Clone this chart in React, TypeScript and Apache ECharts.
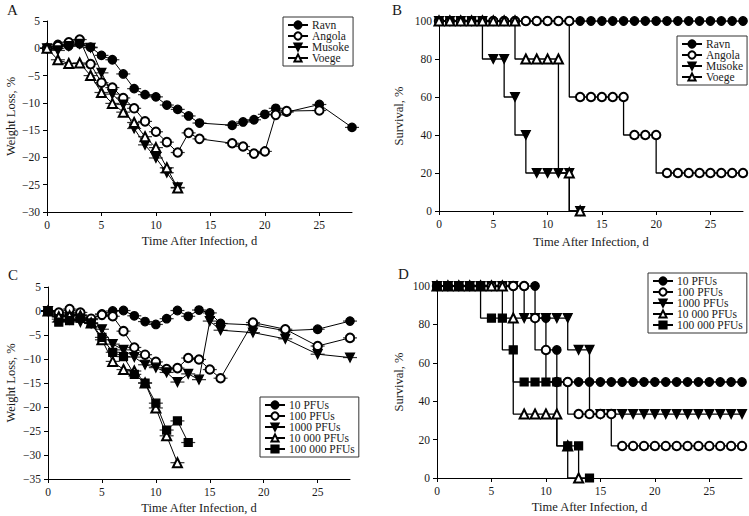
import React, { useEffect, useRef } from 'react';
import * as echarts from 'echarts';

// ---------- Panel A: weight loss by strain ----------
const ravnDays = [0, 1, 2, 3, 4, 5, 6, 7, 8, 9, 10, 11, 12, 13, 14, 17, 18, 19, 20, 21, 22, 25, 28];
const ravnWeight = [0, 0.7, 0.4, 0.8, 0.2, -1.3, -2.1, -4.7, -7.4, -8.5, -8.9, -10.4, -11.2, -12.4, -13.7, -14.1, -13.5, -13.1, -12.1, -11.0, -11.7, -10.3, -14.5];
const angolaDays = [0, 1, 2, 3, 4, 5, 6, 7, 8, 9, 10, 11, 12, 13, 14, 17, 18, 19, 20, 21, 22, 25];
const angolaWeight = [0, 0.4, 1.1, 1.6, -2.9, -6.3, -7.2, -9.1, -11.0, -13.4, -15.3, -17.2, -19.1, -15.5, -16.6, -17.4, -18.0, -19.3, -18.9, -12.2, -11.5, -11.4];
const musokeDays = [0, 1, 2, 3, 4, 5, 6, 7, 8, 9, 10, 11, 12];
const musokeWeight = [0, -0.4, 0.4, 0.8, 0.1, -4.5, -8.4, -10.3, -14.7, -17.7, -20.1, -22.8, -25.5];
const voegeDays = [0, 1, 2, 3, 4, 5, 6, 7, 8, 9, 10, 11, 12];
const voegeWeight = [0, -2.1, -2.8, -2.7, -5.0, -8.1, -10.1, -11.7, -13.6, -16.2, -18.2, -21.9, -25.6];

// ---------- Panel B: survival by strain ----------
const survDaysFull = [0, 1, 2, 3, 4, 5, 6, 7, 8, 9, 10, 11, 12, 13, 14, 15, 16, 17, 18, 19, 20, 21, 22, 23, 24, 25, 26, 27, 28];
const ravnSurv = [100, 100, 100, 100, 100, 100, 100, 100, 100, 100, 100, 100, 100, 100, 100, 100, 100, 100, 100, 100, 100, 100, 100, 100, 100, 100, 100, 100, 100];
const angolaSurv = [100, 100, 100, 100, 100, 100, 100, 100, 100, 100, 100, 100, 100, 60, 60, 60, 60, 60, 40, 40, 40, 20, 20, 20, 20, 20, 20, 20, 20];
const shortDays13 = [0, 1, 2, 3, 4, 5, 6, 7, 8, 9, 10, 11, 12, 13];
const musokeSurv = [100, 100, 100, 100, 100, 80, 80, 60, 40, 20, 20, 20, 20, 0];
const voegeSurv = [100, 100, 100, 100, 100, 100, 100, 100, 80, 80, 80, 80, 20, 0];

// ---------- Panel C: weight loss by dose ----------
const doseDaysLong = [0, 1, 2, 3, 4, 5, 6, 7, 8, 9, 10, 11, 12, 13, 14, 15, 16, 19, 22, 25, 28];
const pfu10Weight = [0, -1.2, -0.6, -0.8, -1.8, -0.6, 0, 0.1, -1.0, -2.2, -2.8, -1.6, 0.1, -1.1, 0.2, -0.4, -2.6, -2.9, -4.1, -3.8, -2.1];
const pfu100Weight = [0, -0.3, 0.4, -0.3, -1.6, -0.8, -1.1, -4.2, -7.6, -9.1, -10.6, -12.1, -11.9, -9.8, -10.1, -12.2, -14.0, -2.4, -3.8, -7.3, -5.6];
const pfu1000Weight = [0, -1.7, -1.8, -2.3, -2.6, -3.8, -6.9, -8.1, -9.6, -11.2, -11.8, -12.8, -14.8, -13.1, -14.3, -2.1, -4.0, -4.5, -5.8, -9.0, -9.7];
const doseDays12 = [0, 1, 2, 3, 4, 5, 6, 7, 8, 9, 10, 11, 12];
const pfu10kWeight = [0, -1.2, -1.0, -1.0, -2.5, -6.0, -10.5, -12.2, -12.5, -15.0, -20.2, -26.0, -31.6];
const doseDays13 = [0, 1, 2, 3, 4, 5, 6, 7, 8, 9, 10, 11, 12, 13];
const pfu100kWeight = [0, -2.3, -2.0, -1.5, -2.5, -5.5, -8.6, -9.5, -13.2, -15.0, -19.2, -24.8, -22.9, -27.4];

// ---------- Panel D: survival by dose ----------
const pfu10Surv = [100, 100, 100, 100, 100, 100, 100, 100, 100, 100, 83.3, 66.7, 50, 50, 50, 50, 50, 50, 50, 50, 50, 50, 50, 50, 50, 50, 50, 50, 50];
const pfu100Surv = [100, 100, 100, 100, 100, 100, 100, 100, 100, 83.3, 66.7, 50, 50, 33.3, 33.3, 33.3, 33.3, 16.7, 16.7, 16.7, 16.7, 16.7, 16.7, 16.7, 16.7, 16.7, 16.7, 16.7, 16.7];
const pfu1000Surv = [100, 100, 100, 100, 100, 100, 100, 100, 83.3, 83.3, 83.3, 83.3, 83.3, 66.7, 66.7, 33.3, 33.3, 33.3, 33.3, 33.3, 33.3, 33.3, 33.3, 33.3, 33.3, 33.3, 33.3, 33.3, 33.3];
const pfu10kSurv = [100, 100, 100, 100, 100, 100, 100, 83.3, 33.3, 33.3, 33.3, 33.3, 16.7, 0];
const shortDays14 = [0, 1, 2, 3, 4, 5, 6, 7, 8, 9, 10, 11, 12, 13, 14];
const pfu100kSurv = [100, 100, 100, 100, 100, 83.3, 83.3, 66.7, 50, 50, 50, 50, 16.7, 16.7, 0];

const strainNames = ['Ravn', 'Angola', 'Musoke', 'Voege'];
const doseNames = ['10 PFUs', '100 PFUs', '1000 PFUs', '10 000 PFUs', '100 000 PFUs'];
const xTickValues = [0, 5, 10, 15, 20, 25];
const xTitle = 'Time After Infection, d';

const FONT = '"Liberation Serif", "DejaVu Serif", "Times New Roman", serif';
const TXT = '#1a1a1a';

type Marker = 'fc' | 'oc' | 'dt' | 'ot' | 'sq';
const markerDef: Record<Marker, { symbol: string; rotate: number; size: number }> = {
  fc: { symbol: 'circle', rotate: 0, size: 8.5 },
  oc: { symbol: 'emptyCircle', rotate: 0, size: 8.5 },
  dt: { symbol: 'triangle', rotate: 180, size: 9 },
  ot: { symbol: 'emptyTriangle', rotate: 0, size: 9 },
  sq: { symbol: 'rect', rotate: 0, size: 8 },
};

const pairs = (xs: number[], ys: number[]) => xs.map((x, i) => [x, ys[i]]);

function lineSeries(name: string, xs: number[], ys: number[], m: Marker, gi: number, step?: string) {
  const d = markerDef[m];
  return {
    type: 'line',
    name,
    xAxisIndex: gi,
    yAxisIndex: gi,
    data: pairs(xs, ys),
    step: step || false,
    symbol: d.symbol,
    symbolRotate: d.rotate,
    symbolSize: d.size,
    showSymbol: true,
    showAllSymbol: true,
    lineStyle: { color: '#000', width: step ? 1.3 : 1 },
    itemStyle: { color: '#000', borderColor: '#000', borderWidth: 1.2 },
    emphasis: { disabled: true },
  };
}

function errSeries(xs: number[], ys: number[], gi: number, key: string) {
  return {
    type: 'scatter',
    name: '_err_' + key,
    xAxisIndex: gi,
    yAxisIndex: gi,
    data: pairs(xs, ys),
    symbol: 'rect',
    symbolSize: [14, 1.2],
    itemStyle: { color: '#000' },
    silent: true,
    emphasis: { disabled: true },
  };
}

function xAxis(gi: number, nameGap: number) {
  return {
    type: 'value',
    gridIndex: gi,
    min: 0,
    max: 28,
    interval: 5,
    name: xTitle,
    nameLocation: 'middle',
    nameGap,
    nameTextStyle: { fontFamily: FONT, fontSize: 12.5, color: TXT },
    axisLine: { show: true, onZero: false, lineStyle: { color: '#000', width: 1 } },
    axisTick: { show: true, length: 4, lineStyle: { color: '#000' }, customValues: xTickValues },
    axisLabel: { fontFamily: FONT, fontSize: 11.5, color: TXT, margin: 7, customValues: xTickValues },
    splitLine: { show: false },
  };
}

function yAxis(gi: number, name: string, min: number, max: number, interval: number, nameGap: number) {
  return {
    type: 'value',
    gridIndex: gi,
    min,
    max,
    interval,
    name,
    nameLocation: 'middle',
    nameGap,
    nameRotate: 90,
    nameTextStyle: { fontFamily: FONT, fontSize: 12.5, color: TXT },
    axisLine: { show: true, onZero: false, lineStyle: { color: '#000', width: 1 } },
    axisTick: { show: true, length: 4, lineStyle: { color: '#000' } },
    axisLabel: {
      fontFamily: FONT,
      fontSize: 11.5,
      color: TXT,
      margin: 7,
      formatter: (v: number) => String(v).replace('-', '\u2212'),
    },
    splitLine: { show: false },
  };
}

function legend(left: number, top: number, names: string[]) {
  return {
    left,
    top,
    orient: 'vertical',
    data: names,
    itemWidth: 20,
    itemHeight: 9,
    itemGap: -1,
    padding: [2, 4, 2, 4],
    borderColor: '#333',
    borderWidth: 1,
    backgroundColor: '#fff',
    selectedMode: false,
    textStyle: { fontFamily: FONT, fontSize: 11.5, color: TXT, lineHeight: 11, padding: [0, 0, 0, -1] },
  };
}

function letter(text: string, x: number, y: number) {
  return {
    type: 'text',
    left: x,
    top: y,
    style: { text, font: `15px ${FONT}`, fill: TXT },
  };
}

export default function App() {
  const ref = useRef<HTMLDivElement>(null);
  useEffect(() => {
    if (!ref.current) return;
    const chart = echarts.init(ref.current, undefined, { renderer: 'svg' });
    const option = {
      animation: false,
      backgroundColor: '#fff',
      grid: [
        { left: 47, top: 21, width: 305, height: 191 },
        { left: 439, top: 21, width: 304, height: 190 },
        { left: 48, top: 287, width: 302, height: 192 },
        { left: 437, top: 286, width: 305, height: 192 },
      ],
      xAxis: [xAxis(0, 22), xAxis(1, 24), xAxis(2, 22), xAxis(3, 22)],
      yAxis: [
        yAxis(0, 'Weight Loss, %', -30, 5, 5, 30),
        yAxis(1, 'Survival, %', 0, 100, 20, 34),
        yAxis(2, 'Weight Loss, %', -35, 5, 5, 31),
        yAxis(3, 'Survival, %', 0, 100, 20, 32),
      ],
      legend: [
        legend(283, 17, strainNames),
        legend(677, 36, strainNames),
        legend(260, 397, doseNames),
        legend(648, 273, doseNames),
      ],
      graphic: [letter('A', 7, 2), letter('B', 392, 2), letter('C', 8, 267), letter('D', 398, 266)],
      series: [
        // error-bar caps (panel A)
        errSeries(ravnDays, ravnWeight, 0, 'a0'),
        errSeries(angolaDays, angolaWeight, 0, 'a1'),
        errSeries(musokeDays, musokeWeight, 0, 'a2'),
        errSeries(voegeDays, voegeWeight, 0, 'a3'),
        // error-bar caps (panel C)
        errSeries(doseDaysLong, pfu10Weight, 2, 'c0'),
        errSeries(doseDaysLong, pfu100Weight, 2, 'c1'),
        errSeries(doseDaysLong, pfu1000Weight, 2, 'c2'),
        errSeries(doseDays12, pfu10kWeight, 2, 'c3'),
        errSeries(doseDays13, pfu100kWeight, 2, 'c4'),
        // panel A
        lineSeries('Ravn', ravnDays, ravnWeight, 'fc', 0),
        lineSeries('Angola', angolaDays, angolaWeight, 'oc', 0),
        lineSeries('Musoke', musokeDays, musokeWeight, 'dt', 0),
        lineSeries('Voege', voegeDays, voegeWeight, 'ot', 0),
        // panel B
        lineSeries('Ravn', survDaysFull, ravnSurv, 'fc', 1, 'start'),
        lineSeries('Angola', survDaysFull, angolaSurv, 'oc', 1, 'start'),
        lineSeries('Musoke', shortDays13, musokeSurv, 'dt', 1, 'start'),
        lineSeries('Voege', shortDays13, voegeSurv, 'ot', 1, 'start'),
        // panel C
        lineSeries('10 PFUs', doseDaysLong, pfu10Weight, 'fc', 2),
        lineSeries('100 PFUs', doseDaysLong, pfu100Weight, 'oc', 2),
        lineSeries('1000 PFUs', doseDaysLong, pfu1000Weight, 'dt', 2),
        lineSeries('10 000 PFUs', doseDays12, pfu10kWeight, 'ot', 2),
        lineSeries('100 000 PFUs', doseDays13, pfu100kWeight, 'sq', 2),
        // panel D
        lineSeries('1000 PFUs', survDaysFull, pfu1000Surv, 'dt', 3, 'start'),
        lineSeries('10 PFUs', survDaysFull, pfu10Surv, 'fc', 3, 'start'),
        lineSeries('100 PFUs', survDaysFull, pfu100Surv, 'oc', 3, 'start'),
        lineSeries('10 000 PFUs', shortDays13, pfu10kSurv, 'ot', 3, 'start'),
        lineSeries('100 000 PFUs', shortDays14, pfu100kSurv, 'sq', 3, 'start'),
      ],
    };
    chart.setOption(option as any);
    return () => chart.dispose();
  }, []);
  return <div ref={ref} style={{ position: 'absolute', left: 0, top: 0, width: 749, height: 516 }} />;
}
